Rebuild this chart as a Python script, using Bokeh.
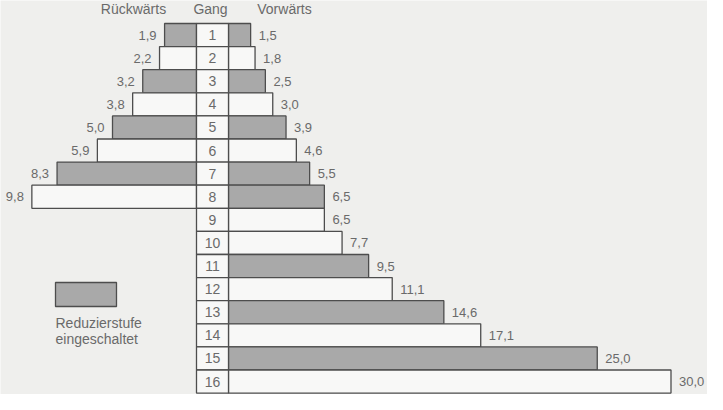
from bokeh.plotting import figure
from bokeh.models import Range1d, ColumnDataSource
from bokeh.embed import file_html
from bokeh.resources import INLINE
from bokeh.core.properties import value

# ---- data ----
gears = list(range(1, 17))
forward = [1.5, 1.8, 2.5, 3.0, 3.9, 4.6, 5.5, 6.5, 6.5, 7.7, 9.5, 11.1, 14.6, 17.1, 25.0, 30.0]
backward = [1.9, 2.2, 3.2, 3.8, 5.0, 5.9, 8.3, 9.8]
forward_reduced = [True, False, True, False, True, False, True, True,
                   False, False, True, False, True, False, True, False]
backward_reduced = [True, False, True, False, True, False, True, False]
header_labels = ["Rückwärts", "Gang", "Vorwärts"]
legend_lines = ["Reduzierstufe", "eingeschaltet"]

# ---- style ----
BG = "#efefed"
GRAY = "#a9a9a9"
WHITE = "#f8f8f7"
LINE = "#4d4d4d"
TXT = "#6a6a6a"
FONT = value("Liberation Sans")

W, H = 707, 394
# forward scale: zero at px 228, px per unit
FZ, FS = 228.0, 14.75
# backward scale: zero at px 196, px per unit (drawn leftwards)
BZ, BS = 196.0, 16.8
# rows: row 1 top px, row height px
RT, RH = 23.0, 23.1

def fmt(v):
    return f"{v:.1f}".replace(".", ",")

def ypx(px):
    return 0.5 + (px - RT) / RH

p = figure(width=W, height=H, output_backend="svg", toolbar_location=None,
           x_range=Range1d(-FZ / FS, (W - FZ) / FS),
           y_range=Range1d(ypx(H), ypx(0)),
           min_border=0, background_fill_color=BG, border_fill_color=BG,
           outline_line_color=None)
p.extra_x_ranges = {"back": Range1d(BZ / BS, -(W - BZ) / BS)}
p.xaxis.visible = False
p.yaxis.visible = False
p.grid.visible = False

# forward bars
fsrc = ColumnDataSource(dict(
    y=gears, right=forward,
    fill=[GRAY if r else WHITE for r in forward_reduced],
    label=[fmt(v) for v in forward]))
p.hbar(y="y", left=0, right="right", height=1, source=fsrc,
       fill_color="fill", line_color=LINE, line_width=1.3)
p.text(x="right", y="y", text="label", source=fsrc, x_offset=8,
       text_align="left", text_baseline="middle", text_font=FONT,
       text_font_size="13px", text_color=TXT)

# backward bars
bgears = gears[:len(backward)]
bsrc = ColumnDataSource(dict(
    y=bgears, right=backward,
    fill=[GRAY if r else WHITE for r in backward_reduced],
    label=[fmt(v) for v in backward]))
p.hbar(y="y", left=0, right="right", height=1, source=bsrc, x_range_name="back",
       fill_color="fill", line_color=LINE, line_width=1.3)
p.text(x="right", y="y", text="label", source=bsrc, x_range_name="back",
       x_offset=-8, text_align="right", text_baseline="middle", text_font=FONT,
       text_font_size="13px", text_color=TXT)

# gear column (between px 196 and 228)
gl = -(FZ - BZ) / FS
gsrc = ColumnDataSource(dict(y=gears, txt=[str(g) for g in gears]))
p.hbar(y="y", left=gl, right=0, height=1, source=gsrc,
       fill_color=WHITE, line_color=LINE, line_width=1.3)
p.text(x=gl / 2, y="y", text="txt", source=gsrc, text_align="center",
       text_baseline="middle", text_font=FONT, text_font_size="14px",
       text_color=TXT)

# headers
hy = ypx(8)
p.text(x=[(BZ - 133) / BS], y=[hy], text=[header_labels[0]], x_range_name="back",
       text_align="center", text_baseline="middle", text_font=FONT,
       text_font_size="14px", text_color=TXT)
p.text(x=[(210 - FZ) / FS], y=[hy], text=[header_labels[1]],
       text_align="center", text_baseline="middle", text_font=FONT,
       text_font_size="14px", text_color=TXT)
p.text(x=[(284 - FZ) / FS], y=[hy], text=[header_labels[2]],
       text_align="center", text_baseline="middle", text_font=FONT,
       text_font_size="14px", text_color=TXT)

# legend
lx0, lx1 = 55, 116
ly0, ly1 = 282, 306
p.quad(left=[(BZ - lx0) / BS], right=[(BZ - lx1) / BS],
       top=[ypx(ly0)], bottom=[ypx(ly1)],
       x_range_name="back", fill_color=GRAY, line_color=LINE, line_width=1.3)
p.text(x=[(BZ - lx0) / BS] * 2,
       y=[ypx(322), ypx(338)],
       text=legend_lines, x_range_name="back", text_align="left",
       text_baseline="middle", text_font=FONT, text_font_size="14px",
       text_color=TXT)

open("out.html", "w").write(file_html(p, INLINE))
